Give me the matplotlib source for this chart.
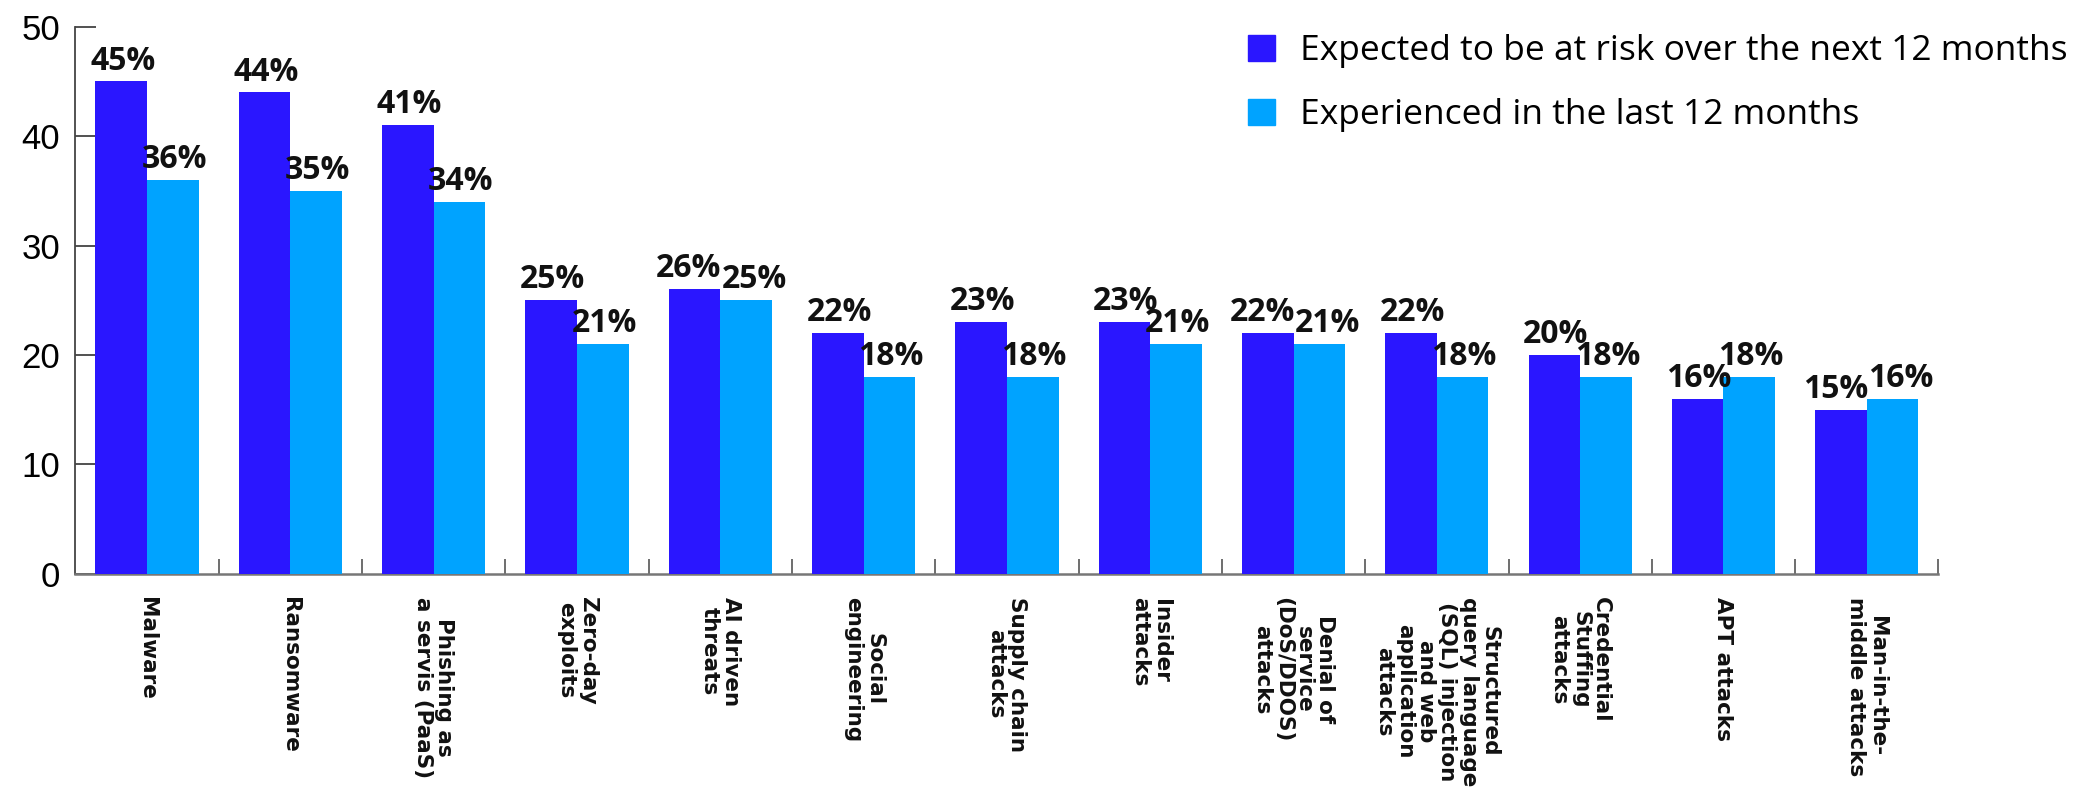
import numpy as np
import matplotlib.pyplot as plt
from matplotlib.patches import Patch

# 类别与数值
categories = [
    "Malware",
    "Ransomware",
    "Phishing as\na servis (PaaS)",
    "Zero-day\nexploits",
    "AI driven\nthreats",
    "Social\nengineering",
    "Supply chain\nattacks",
    "Insider\nattacks",
    "Denial of\nservice\n(DoS/DDOS)\nattacks",
    "Structured\nquery language\n(SQL) injection\nand web\napplication\nattacks",
    "Credential\nStuffing\nattacks",
    "APT attacks",
    "Man-in-the-\nmiddle attacks",
]
expected = [45, 44, 41, 25, 26, 22, 23, 23, 22, 22, 20, 16, 15]
experienced = [36, 35, 34, 21, 25, 18, 18, 21, 21, 18, 18, 18, 16]
series_names = ["Expected to be at risk over the next 12 months",
                "Experienced in the last 12 months"]
y_ticks = [0, 10, 20, 30, 40, 50]

c_blue = "#2A16FF"
c_cyan = "#00A3FF"

fig = plt.figure(figsize=(20.77, 7.88), dpi=100)
ax = fig.add_axes([0.0363, 0.272, 0.897, 0.694])

x = np.arange(len(categories))
w = 0.36
b1 = ax.bar(x - w / 2, expected, w, color=c_blue, label=series_names[0], zorder=3)
b2 = ax.bar(x + w / 2, experienced, w, color=c_cyan, label=series_names[1], zorder=3)

# 柱顶百分比：两柱高度接近时左右错开，避免文字重叠
for i, (r1, r2) in enumerate(zip(b1, b2)):
    v1, v2 = expected[i], experienced[i]
    nudge = 5 if abs(v1 - v2) <= 1 else 0
    for rect, v, dx in ((r1, v1, -nudge), (r2, v2, nudge)):
        ax.annotate(f"{v}%", (rect.get_x() + rect.get_width() / 2, v),
                    xytext=(1 + dx, 8.5), textcoords="offset points",
                    ha="center", va="baseline", fontsize=23,
                    family="Open Sans", weight="bold", color="#111111")

ax.set_xlim(-0.5, len(categories) - 0.5)
ax.set_ylim(0, 50)

# 坐标轴样式
for s in ("top", "right"):
    ax.spines[s].set_visible(False)
ax.spines["left"].set_color("#444444")
ax.spines["bottom"].set_color("#777777")
ax.spines["left"].set_linewidth(1.3)
ax.spines["bottom"].set_linewidth(1.8)

ax.set_yticks(y_ticks)
ax.set_yticklabels([str(t) for t in y_ticks], family="Liberation Sans", fontsize=25)
ax.tick_params(axis="y", which="major", direction="in", length=15, width=1.2,
               color="#333333", pad=11)
# 0 和 50 处的长刻度
ax.set_yticks([0, 50], minor=True)
ax.tick_params(axis="y", which="minor", direction="in", length=34, width=1.5,
               color="#777777")

# 类别分隔刻度
ax.set_xticks(x + 0.5)
ax.set_xticklabels([])
ax.tick_params(axis="x", direction="in", length=11, width=1.2, color="#555555")
for xi, lab in zip(x, categories):
    ax.text(xi, -0.042, lab, transform=ax.get_xaxis_transform(),
            rotation=-90, ha="center", va="top", fontsize=15.5,
            weight="bold", family="DejaVu Sans", linespacing=1.07,
            color="#111111")

leg = ax.legend(handles=[Patch(color=c_blue), Patch(color=c_cyan)],
                labels=series_names, loc="upper left",
                bbox_to_anchor=(1248 / 2077, 1 - 34 / 788),
                bbox_transform=fig.transFigure, frameon=False,
                prop={"family": "Open Sans", "size": 25.5},
                handlelength=0.76, handleheight=0.76, handletextpad=0.72,
                labelspacing=0.86, borderpad=0, borderaxespad=0)

fig.savefig("out.png", dpi=100)
